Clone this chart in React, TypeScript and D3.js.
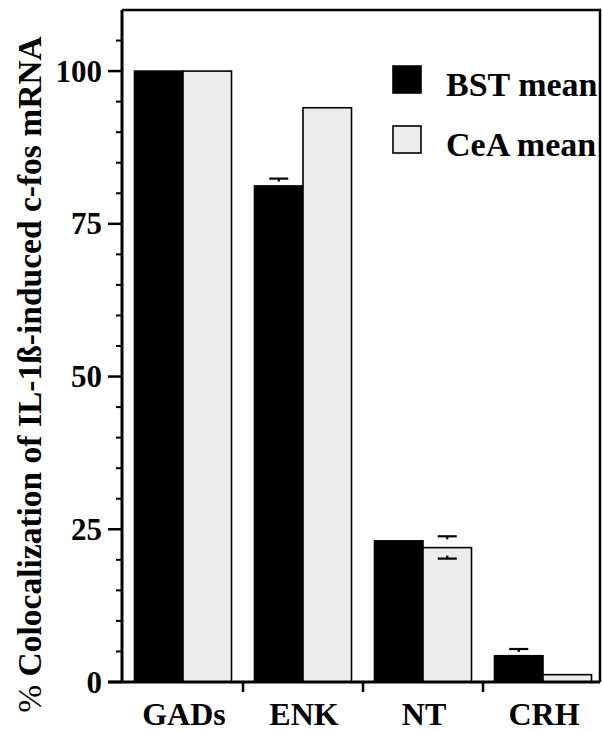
import * as d3 from 'd3';
import React, { useEffect, useRef } from 'react';

// categories and series
const categories = ['GADs', 'ENK', 'NT', 'CRH'];
const seriesNames = ['BST mean', 'CeA mean'];
const bstMean = [100, 81.2, 23.1, 4.3];
const ceaMean = [100, 94, 22.0, 1.2];
// error caps (upper / lower), null where none drawn
const bstUpper = [null, 82.4, null, 5.4];
const bstLower = [null, null, null, null];
const ceaUpper = [null, null, 23.85, null];
const ceaLower = [null, null, 20.2, null];
const yTicks = [0, 25, 50, 75, 100];

const FONT = '"Liberation Serif", "Times New Roman", serif';

function App() {
  const ref = useRef<SVGSVGElement>(null);

  useEffect(() => {
    const svg = d3.select(ref.current);
    svg.selectAll('*').remove();

    const y = d3.scaleLinear().domain([0, 110]).range([682, 10]);
    const x0 = d3.scaleBand().domain(categories).range([123, 603]).paddingInner(0);
    const x1 = d3.scaleBand().domain(seriesNames).range([0, x0.bandwidth()]).paddingOuter(0.237);
    const fill = d3.scaleOrdinal<string>().domain(seriesNames).range(['#000000', '#ececec']);

    const rows = categories.map((c, i) => ({
      cat: c,
      vals: [
        { s: seriesNames[0], v: bstMean[i], hi: bstUpper[i], lo: bstLower[i] },
        { s: seriesNames[1], v: ceaMean[i], hi: ceaUpper[i], lo: ceaLower[i] },
      ],
    }));

    // bars
    const g = svg.selectAll('g.grp')
      .data(rows)
      .enter().append('g')
      .attr('class', 'grp')
      .attr('transform', d => `translate(${x0(d.cat)},0)`);

    g.selectAll('rect')
      .data(d => d.vals)
      .enter().append('rect')
      .attr('x', d => x1(d.s)!)
      .attr('y', d => y(d.v))
      .attr('width', x1.bandwidth())
      .attr('height', d => y(0) - y(d.v))
      .attr('fill', d => fill(d.s))
      .attr('stroke', '#000')
      .attr('stroke-width', 1.6);

    // error caps
    const caps: { x: number; v: number; dir: number }[] = [];
    rows.forEach(r => r.vals.forEach(d => {
      const cx = x0(r.cat)! + x1(d.s)! + x1.bandwidth() / 2;
      if (d.hi != null) caps.push({ x: cx, v: d.hi, dir: 1 });
      if (d.lo != null) caps.push({ x: cx, v: d.lo, dir: -1 });
    }));
    const cg = svg.append('g').attr('stroke', '#000').attr('stroke-width', 2.2);
    caps.forEach(c => {
      cg.append('line')
        .attr('x1', c.x - 9.5).attr('x2', c.x + 9.5)
        .attr('y1', y(c.v)).attr('y2', y(c.v));
      cg.append('line')
        .attr('x1', c.x).attr('x2', c.x)
        .attr('y1', y(c.v)).attr('y2', y(c.v) + c.dir * 3);
    });

    // frame (top and right)
    svg.append('path')
      .attr('d', `M122,${y(110)}H600V${y(0)}`)
      .attr('fill', 'none')
      .attr('stroke', '#000')
      .attr('stroke-width', 2.5);

    // y axis
    const yAxis = svg.append('g').attr('transform', 'translate(122,0)');
    yAxis.append('line')
      .attr('x1', 0).attr('x2', 0)
      .attr('y1', y(110)).attr('y2', y(0))
      .attr('stroke', '#000').attr('stroke-width', 3);
    yAxis.selectAll('line.minor')
      .data(d3.range(5, 110, 5).filter(v => v % 25 !== 0))
      .enter().append('line')
      .attr('class', 'minor')
      .attr('x1', -6).attr('x2', 0)
      .attr('y1', d => y(d)).attr('y2', d => y(d))
      .attr('stroke', '#000').attr('stroke-width', 2);
    yAxis.selectAll('line.major')
      .data(yTicks)
      .enter().append('line')
      .attr('class', 'major')
      .attr('x1', -14).attr('x2', 0)
      .attr('y1', d => y(d)).attr('y2', d => y(d))
      .attr('stroke', '#000').attr('stroke-width', 2.5);
    yAxis.selectAll('text')
      .data(yTicks)
      .enter().append('text')
      .attr('x', -20)
      .attr('y', d => y(d))
      .attr('dy', '0.34em')
      .attr('text-anchor', 'end')
      .attr('font-family', FONT)
      .attr('font-size', 31)
      .attr('font-weight', 'bold')
      .text(d => d);

    // x axis
    const xAxis = svg.append('g');
    xAxis.append('line')
      .attr('x1', 108).attr('x2', 600)
      .attr('y1', y(0)).attr('y2', y(0))
      .attr('stroke', '#000').attr('stroke-width', 3);
    xAxis.selectAll('line.tick')
      .data(categories.slice(1))
      .enter().append('line')
      .attr('class', 'tick')
      .attr('x1', d => x0(d)!).attr('x2', d => x0(d)!)
      .attr('y1', y(0)).attr('y2', y(0) + 10)
      .attr('stroke', '#000').attr('stroke-width', 2.5);
    xAxis.selectAll('text')
      .data(categories)
      .enter().append('text')
      .attr('x', d => x0(d)! + x0.bandwidth() / 2 + 1)
      .attr('y', 725)
      .attr('text-anchor', 'middle')
      .attr('font-family', FONT)
      .attr('font-size', 32)
      .attr('font-weight', 'bold')
      .text(d => d);

    // y label
    const yl = svg.append('text')
      .attr('transform', `translate(41,${(32 + 717) / 2}) rotate(-90)`)
      .attr('text-anchor', 'middle')
      .attr('font-family', FONT)
      .attr('font-size', 33.5)
      .attr('font-weight', 'bold');
    yl.append('tspan').attr('font-weight', 'normal').text('% ');
    yl.append('tspan').text('Colocalization of IL-1ß-induced c-fos mRNA');

    // legend
    const lg = svg.selectAll('g.leg')
      .data(seriesNames)
      .enter().append('g')
      .attr('class', 'leg')
      .attr('transform', (d, i) => `translate(393,${66 + i * 60})`);
    lg.append('rect')
      .attr('width', 28).attr('height', 27)
      .attr('fill', d => fill(d))
      .attr('stroke', '#000').attr('stroke-width', 1.6);
    lg.append('text')
      .attr('x', 53).attr('y', 30)
      .attr('font-family', FONT)
      .attr('font-size', 34)
      .attr('font-weight', 'bold')
      .text(d => d);
  }, []);

  return (
    <svg
      ref={ref}
      width={602}
      height={732}
      style={{ position: 'absolute', left: 0, top: 0, background: '#fff' }}
    />
  );
}

export default App;
